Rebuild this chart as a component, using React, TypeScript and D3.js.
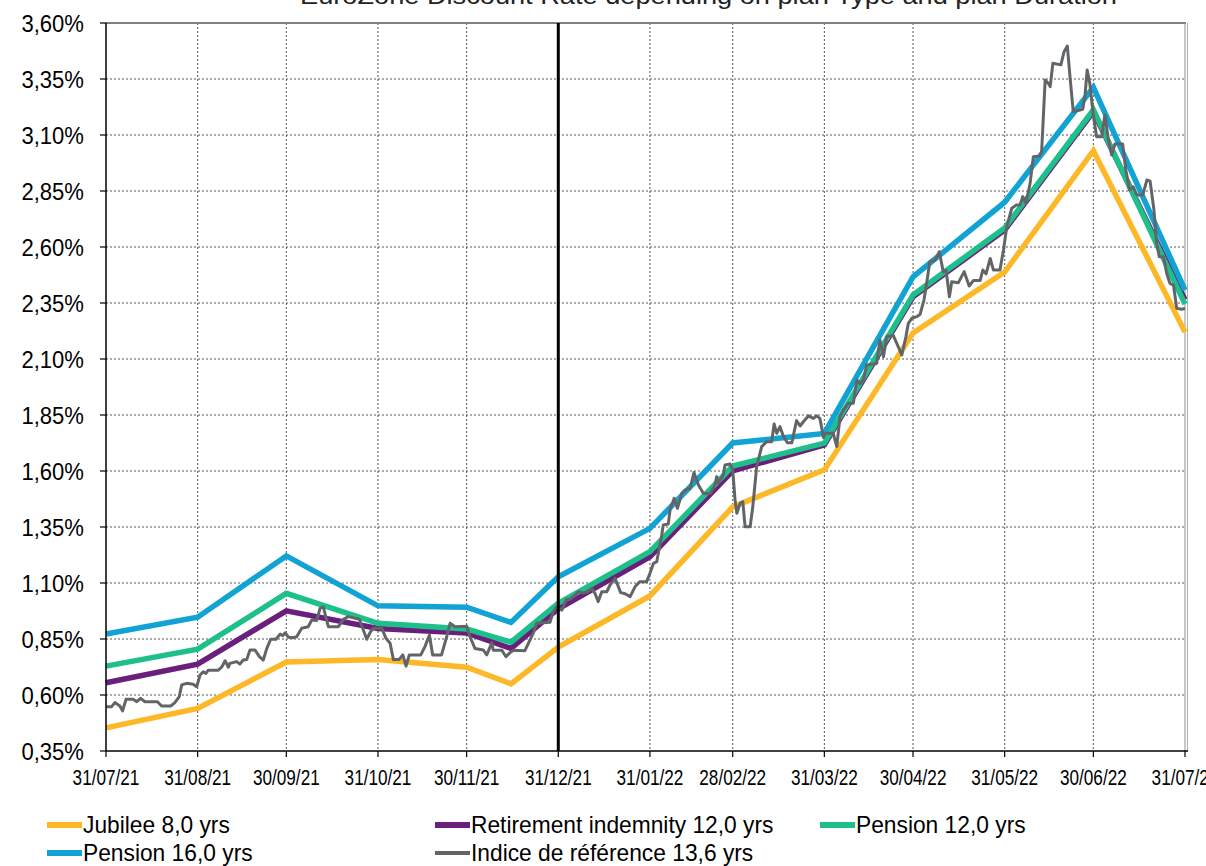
import React from "react";
import * as d3 from "d3";

// ---------- DATA ----------
const seriesDates = [
  "2021-07-31", "2021-08-31", "2021-09-30", "2021-10-31", "2021-11-30", "2021-12-15",
  "2021-12-31", "2022-01-31", "2022-02-28", "2022-03-31", "2022-04-30", "2022-05-31",
  "2022-06-30", "2022-07-31",
];
const jubilee = [0.453, 0.54, 0.747, 0.758, 0.724, 0.65, 0.814, 1.042, 1.44, 1.605, 2.216, 2.488, 3.03, 2.22];
const retirement = [0.655, 0.738, 0.976, 0.897, 0.877, 0.808, 0.985, 1.217, 1.601, 1.716, 2.378, 2.676, 3.204, 2.365];
const pension12 = [0.729, 0.805, 1.054, 0.92, 0.895, 0.836, 1.01, 1.24, 1.622, 1.724, 2.386, 2.685, 3.212, 2.345];
const pension16 = [0.872, 0.947, 1.221, 0.998, 0.992, 0.924, 1.128, 1.344, 1.725, 1.768, 2.467, 2.8, 3.313, 2.408];

// Reference index: days since 31/07/21 and value (%)
const grayDays = [
  0.2, 1.9, 3.0, 4.7, 5.6, 6.8, 9.2, 10.4, 11.7, 13.2, 17.4, 18.8, 21.9, 23.3, 24.8, 25.6, 27.3, 29.5, 30.7, 31.8,
  32.9, 33.8, 34.6, 38.0, 39.1, 40.3, 41.4, 41.9, 44.2, 45.3, 46.4, 47.6, 48.7, 50.4, 51.9, 53.2, 54.4, 55.7, 57.5, 58.9,
  59.8, 60.6, 61.7, 63.4, 64.5, 66.2, 68.4, 69.6, 71.3, 72.4, 73.5, 75.2, 78.6, 80.3, 82.0, 85.7, 88.2, 89.3, 90.4, 93.3,
  94.7, 96.1, 97.2, 99.2, 100.4, 101.5, 102.6, 106.5, 107.9, 109.4, 110.5, 113.5, 115.3, 116.4, 118.1, 122.0, 123.1, 124.8, 127.6, 128.8,
  130.5, 131.0, 133.9, 135.3, 136.7, 137.8, 141.7, 142.9, 144.6, 145.7, 150.2, 151.3, 152.5, 154.2, 155.8, 157.0, 158.1, 159.8, 161.5, 163.1,
  164.3, 165.4, 166.5, 167.7, 169.4, 170.5, 172.2, 174.1, 175.6, 177.3, 179.0, 180.6, 182.9, 184.0, 185.2, 186.3, 188.0, 188.5, 190.2, 190.8,
  192.2, 193.3, 194.8, 195.9, 197.6, 198.9, 200.4, 202.1, 204.4, 206.0, 206.6, 207.1, 208.8, 209.4, 211.1, 212.0, 212.8, 213.4, 214.5, 215.4,
  216.2, 217.9, 218.8, 220.1, 221.8, 223.5, 225.2, 226.0, 226.9, 228.0, 229.1, 230.5, 232.0, 233.6, 234.8, 235.9, 237.6, 239.3, 240.4, 241.5,
  242.7, 243.2, 246.0, 247.2, 248.3, 249.4, 251.1, 252.8, 254.0, 255.1, 256.2, 257.3, 260.7, 261.8, 263.0, 264.1, 266.3, 267.5, 269.2, 270.6,
  271.4, 272.6, 274.3, 275.4, 276.7, 277.6, 278.7, 280.4, 281.9, 283.2, 284.2, 285.3, 286.1, 288.3, 290.3, 292.0, 293.4, 295.7, 296.6, 297.7,
  299.1, 300.2, 302.4, 303.6, 304.7, 306.4, 308.0, 309.2, 310.1, 311.2, 312.6, 313.7, 315.7, 316.5, 317.7, 318.8, 319.4, 320.3, 323.0, 324.1,
  325.2, 326.1, 327.2, 330.4, 331.2, 331.9, 332.8, 333.9, 335.1, 336.8, 337.9, 339.1, 340.2, 341.3, 343.9, 345.0, 346.2, 347.5, 348.7, 350.7,
  352.1, 353.2, 354.5, 355.4, 356.3, 357.7, 358.8, 359.9, 361.1, 362.2, 363.9, 365.0,
];
const grayValues = [
  0.548, 0.548, 0.566, 0.551, 0.529, 0.581, 0.581, 0.57, 0.585, 0.57, 0.57, 0.551, 0.551, 0.566, 0.593, 0.645, 0.652, 0.648, 0.637, 0.689,
  0.704, 0.696, 0.711, 0.711, 0.724, 0.753, 0.724, 0.741, 0.749, 0.738, 0.756, 0.758, 0.801, 0.801, 0.771, 0.756, 0.808, 0.849, 0.849, 0.872,
  0.865, 0.878, 0.858, 0.856, 0.86, 0.898, 0.905, 0.935, 0.933, 0.987, 0.994, 0.905, 0.905, 0.938, 0.95, 0.938, 0.849, 0.878, 0.898, 0.898,
  0.853, 0.831, 0.759, 0.759, 0.779, 0.729, 0.779, 0.779, 0.816, 0.868, 0.779, 0.779, 0.863, 0.92, 0.905, 0.907, 0.861, 0.808, 0.801, 0.779,
  0.833, 0.8, 0.8, 0.771, 0.789, 0.8, 0.798, 0.831, 0.878, 0.92, 0.925, 0.972, 0.994, 0.979, 1.028, 1.028, 1.039, 1.061, 1.056, 1.061,
  1.076, 1.054, 1.017, 1.061, 1.061, 1.091, 1.121, 1.057, 1.052, 1.039, 1.084, 1.106, 1.106, 1.143, 1.188, 1.195, 1.314, 1.359, 1.363, 1.426,
  1.478, 1.433, 1.5, 1.515, 1.522, 1.593, 1.538, 1.5, 1.5, 1.538, 1.575, 1.545, 1.582, 1.627, 1.631, 1.605, 1.47, 1.411, 1.456, 1.463,
  1.351, 1.351, 1.441, 1.619, 1.709, 1.731, 1.731, 1.81, 1.768, 1.798, 1.756, 1.726, 1.726, 1.825, 1.801, 1.82, 1.846, 1.835, 1.846, 1.835,
  1.75, 1.768, 1.768, 1.709, 1.843, 1.872, 1.902, 1.902, 2.006, 1.99, 2.006, 2.073, 2.08, 2.185, 2.11, 2.2, 2.205, 2.17, 2.118, 2.2,
  2.259, 2.282, 2.289, 2.3, 2.363, 2.438, 2.535, 2.54, 2.579, 2.49, 2.495, 2.378, 2.445, 2.44, 2.49, 2.426, 2.45, 2.45, 2.497, 2.48,
  2.549, 2.497, 2.497, 2.587, 2.69, 2.773, 2.788, 2.788, 2.825, 2.795, 2.884, 3.003, 3.006, 3.026, 3.346, 3.33, 3.316, 3.42, 3.413, 3.472,
  3.497, 3.36, 3.204, 3.215, 3.279, 3.39, 3.331, 3.197, 3.092, 3.092, 3.189, 3.078, 3.011, 3.06, 3.06, 2.944, 2.854, 2.869, 2.832, 2.832,
  2.899, 2.894, 2.765, 2.617, 2.557, 2.557, 2.483, 2.438, 2.43, 2.326, 2.322, 2.326,
];

const xTickDates = [
  "2021-07-31", "2021-08-31", "2021-09-30", "2021-10-31", "2021-11-30", "2021-12-31",
  "2022-01-31", "2022-02-28", "2022-03-31", "2022-04-30", "2022-05-31", "2022-06-30", "2022-07-31",
];
const yTicks = [0.35, 0.6, 0.85, 1.1, 1.35, 1.6, 1.85, 2.1, 2.35, 2.6, 2.85, 3.1, 3.35, 3.6];
const markerDate = "2021-12-31";
const baseDate = "2021-07-31";

const seriesNames = [
  "Jubilee 8,0 yrs",
  "Retirement indemnity 12,0 yrs",
  "Pension 12,0 yrs",
  "Pension 16,0 yrs",
  "Indice de référence 13,6 yrs",
];
const seriesColors = ["#FDB827", "#6B1F7C", "#1DBF8B", "#10A3D4", "#626568"];
const titleText = "EuroZone Discount Rate depending on plan Type and plan Duration";

// ---------- COMPONENT ----------
const W = 1206;
const H = 866;
const FONT = "'Liberation Sans', Arial, sans-serif";

export default function App() {
  const parse = (s: string) => new Date(s + "T00:00:00Z");
  const x = d3.scaleUtc().domain([parse("2021-07-31"), parse("2022-07-31")]).range([106, 1185]);
  const y = d3.scaleLinear().domain([0.35, 3.6]).range([751, 23]);
  const fmtDate = d3.utcFormat("%d/%m/%y");
  const fmtPct = (v: number) => v.toFixed(2).replace(".", ",") + "%";

  const line = d3
    .line<[Date, number]>()
    .x((d) => x(d[0]))
    .y((d) => y(d[1]));

  const mainSeries = [jubilee, retirement, pension12, pension16].map((vals) =>
    vals.map((v, i) => [parse(seriesDates[i]), v] as [Date, number])
  );
  const base = parse(baseDate).getTime();
  const grayData = grayDays.map((d, i) => [new Date(base + d * 86400000), grayValues[i]] as [Date, number]);

  const [x0, x1] = x.range();
  const [yb, yt] = y.range();
  const mx = x(parse(markerDate));

  const legendPos = [
    [47, 825],
    [435, 825],
    [820, 825],
    [47, 853],
    [435, 853],
  ];

  return (
    <svg
      width={W}
      height={H}
      style={{ position: "absolute", left: 0, top: 0, background: "#fff" }}
      fontFamily={FONT}
    >
      <rect x={0} y={0} width={W} height={H} fill="#fff" />
      {/* Title (cropped at the top edge, as in the reference) */}
      <text x={300} y={4} fontSize={24} fill="#222" textLength={817} lengthAdjust="spacingAndGlyphs">
        {titleText}
      </text>

      {/* Grid */}
      {yTicks.slice(1, -1).map((t) => (
        <line key={"gy" + t} x1={x0} x2={x1} y1={y(t)} y2={y(t)} stroke="#555" strokeWidth={1} strokeDasharray="2,2" />
      ))}
      {xTickDates.slice(1, -1).map((d) => (
        <line key={"gx" + d} x1={x(parse(d))} x2={x(parse(d))} y1={yt} y2={yb} stroke="#555" strokeWidth={1} strokeDasharray="2,2" />
      ))}
      {/* Frame */}
      <line x1={x0} x2={x1 + 1} y1={yt} y2={yt} stroke="#808080" strokeWidth={2} />
      <line x1={x1} x2={x1} y1={yt} y2={yb} stroke="#909090" strokeWidth={1} />
      <line x1={x1 + 2.5} x2={x1 + 2.5} y1={yt} y2={yb} stroke="#b0b0b0" strokeWidth={1} />

      {/* Series */}
      {mainSeries.map((s, i) => (
        <path key={"s" + i} d={line(s) || ""} fill="none" stroke={seriesColors[i]} strokeWidth={5.5} strokeLinejoin="miter" />
      ))}
      <path d={line(grayData) || ""} fill="none" stroke={seriesColors[4]} strokeWidth={3} strokeLinejoin="round" />

      {/* Marker line */}
      <line x1={mx} x2={mx} y1={yt} y2={yb} stroke="#000" strokeWidth={3} />

      {/* Axes */}
      <line x1={x0} x2={x0} y1={yt} y2={yb} stroke="#000" strokeWidth={1.5} />
      <line x1={x0} x2={x1 + 3} y1={yb} y2={yb} stroke="#000" strokeWidth={1.5} />
      {yTicks.map((t) => (
        <g key={"yt" + t}>
          <line x1={x0 - 6} x2={x0} y1={y(t)} y2={y(t)} stroke="#000" strokeWidth={1.2} />
          <text
            transform={`translate(84,${y(t) + 9}) scale(0.92,1)`}
            textAnchor="end"
            fontSize={24}
            fill="#000"
          >
            {fmtPct(t)}
          </text>
        </g>
      ))}
      {xTickDates.map((d) => {
        const xx = x(parse(d));
        return (
          <g key={"xt" + d}>
            <line x1={xx} x2={xx} y1={yb} y2={yb + 6} stroke="#000" strokeWidth={1.2} />
            <text transform={`translate(${xx},${785}) scale(0.78,1)`} textAnchor="middle" fontSize={22} fill="#000">
              {fmtDate(parse(d))}
            </text>
          </g>
        );
      })}

      {/* Legend */}
      {seriesNames.map((name, i) => {
        const [lx, ly] = legendPos[i];
        return (
          <g key={"lg" + i}>
            <line x1={lx} x2={lx + 35} y1={ly} y2={ly} stroke={seriesColors[i]} strokeWidth={i === 4 ? 4 : 6} />
            <text transform={`translate(${lx + 36},${ly + 8}) scale(0.93,1)`} fontSize={24.5} fill="#000">
              {name}
            </text>
          </g>
        );
      })}
    </svg>
  );
}
